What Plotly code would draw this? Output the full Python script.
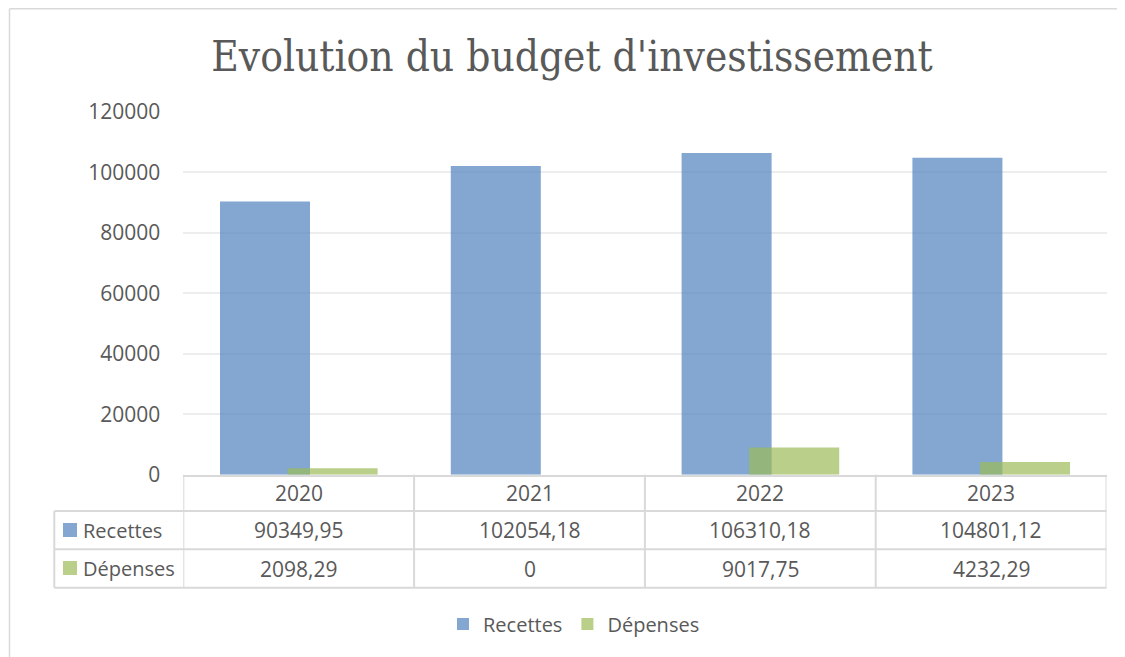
import plotly.graph_objects as go

# ---- data ----
years = ["2020", "2021", "2022", "2023"]
recettes = [90349.95, 102054.18, 106310.18, 104801.12]
depenses = [2098.29, 0, 9017.75, 4232.29]
series_names = ["Recettes", "Dépenses"]
y_ticks = [0, 20000, 40000, 60000, 80000, 100000, 120000]

# the page body adds an 8px margin; figure is sized to fill the rest of the window
OFF = 8
W, H = 1125 - OFF, 657 - OFF
BLUE = "rgba(79,129,189,0.7)"
GREEN = "rgba(155,187,89,0.7)"
TXT = "#595959"
GRIDC = "#EDEDED"
TBL = "#D9D9D9"
FONT = "Open Sans"


def fx(px):
    return (px - OFF) / W


def fy(py):
    return 1 - (py - OFF) / H


def fmt(v):
    s = f"{v:.2f}".rstrip("0").rstrip(".")
    return s.replace(".", ",")


xs = list(range(len(years)))
bar_w = 0.39
fig = go.Figure()
fig.add_trace(go.Bar(x=xs, y=recettes, name=series_names[0], width=bar_w, offset=-0.341,
                     marker=dict(color=BLUE, line=dict(width=0))))
fig.add_trace(go.Bar(x=xs, y=depenses, name=series_names[1], width=bar_w, offset=-0.048,
                     marker=dict(color=GREEN, line=dict(width=0))))

x_left, x_right = 183.3, 1106.5
y_top, y_bot = 111.7, 474.7

fig.update_layout(
    width=W, height=H, autosize=False,
    margin=dict(l=0, r=0, t=0, b=0),
    paper_bgcolor="white", plot_bgcolor="white",
    barmode="overlay",
    font=dict(family=FONT, size=21, color=TXT),
    title=dict(text="Evolution du budget d'investissement",
               font=dict(family="DejaVu Serif Condensed", size=42, color=TXT),
               x=fx(572), xanchor="center", y=fy(56), yanchor="middle"),
    xaxis=dict(domain=[fx(x_left), fx(x_right)], range=[-0.5, len(years) - 0.5],
               showticklabels=False, showgrid=False, zeroline=False,
               showline=True, linecolor=TBL, linewidth=2, automargin=False,
               fixedrange=True),
    yaxis=dict(domain=[fy(y_bot), fy(y_top)], range=[0, 120000],
               tickvals=y_ticks, ticktext=[str(t) for t in y_ticks],
               showgrid=True, gridcolor=GRIDC, gridwidth=2, zeroline=False,
               showline=False, ticklabelstandoff=22, automargin=False,
               tickfont=dict(family=FONT, size=21, color=TXT)),
    legend=dict(orientation="h", x=fx(574), xanchor="center", y=fy(624), yanchor="middle",
                font=dict(family=FONT, size=20, color=TXT), itemwidth=30,
                bgcolor="rgba(0,0,0,0)"),
    showlegend=True,
)

shapes = []
# outer chart border (top and left edges visible)
shapes.append(dict(type="line", xref="paper", yref="paper", x0=fx(9.5), x1=1,
                   y0=fy(8.8), y1=fy(8.8), line=dict(color=TBL, width=1.5)))
shapes.append(dict(type="line", xref="paper", yref="paper", x0=fx(9.5), x1=fx(9.5),
                   y0=0, y1=fy(8.8), line=dict(color=TBL, width=1.5)))
# table horizontal lines
for py in [511, 549.3, 587.7]:
    shapes.append(dict(type="line", xref="paper", yref="paper", x0=fx(54.3), x1=fx(x_right),
                       y0=fy(py), y1=fy(py), line=dict(color=TBL, width=2)))
# left column border
shapes.append(dict(type="line", xref="paper", yref="paper", x0=fx(54.3), x1=fx(54.3),
                   y0=fy(511), y1=fy(587.7), line=dict(color=TBL, width=2)))
# column separators along category boundaries
for b in [i - 0.5 for i in range(len(years) + 1)]:
    shapes.append(dict(type="line", xref="x", yref="paper", x0=b, x1=b,
                       y0=fy(y_bot), y1=fy(587.7), line=dict(color=TBL, width=2)))
# legend keys inside table
for color, (t, b_) in zip([BLUE, GREEN], [(523, 537), (561, 575)]):
    shapes.append(dict(type="rect", xref="paper", yref="paper", x0=fx(63), x1=fx(77),
                       y0=fy(b_), y1=fy(t), fillcolor=color, line=dict(width=0)))

annotations = []
for i, yr in enumerate(years):
    annotations.append(dict(x=i, xref="x", y=fy(493), yref="paper", text=yr,
                            showarrow=False, xanchor="center", yanchor="middle"))
for row_y, name, vals in [(530, series_names[0], recettes), (568.5, series_names[1], depenses)]:
    annotations.append(dict(x=fx(81), xref="paper", y=fy(row_y), yref="paper", text=name,
                            showarrow=False, xanchor="left", yanchor="middle",
                            font=dict(size=20)))
    for i, v in enumerate(vals):
        annotations.append(dict(x=i, xref="x", y=fy(row_y), yref="paper", text=fmt(v),
                                showarrow=False, xanchor="center", yanchor="middle"))

fig.update_layout(shapes=shapes, annotations=annotations)
fig.write_html("out.html")
